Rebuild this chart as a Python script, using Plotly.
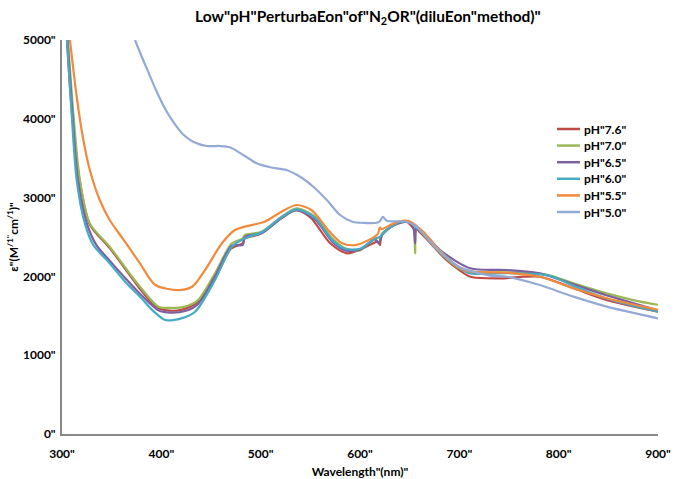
import plotly.graph_objects as go

# ---- data ----
wl_76 = [305, 310, 318, 328, 348, 368, 378, 395, 405, 420, 435, 455, 470, 482, 484, 500, 520, 535, 550, 570, 587, 603, 618, 620, 622, 637, 647, 655, 657, 671, 687, 700, 711, 741, 781, 815, 848, 900]
eps_76 = [5000, 4080, 3200, 2660, 2360, 2020, 1850, 1610, 1570, 1575, 1660, 2000, 2350, 2420, 2480, 2540, 2730, 2840, 2750, 2420, 2293, 2356, 2440, 2400, 2520, 2673, 2694, 2600, 2600, 2420, 2208, 2080, 1996, 1976, 1996, 1849, 1700, 1552]

wl_70 = [306, 311.4, 318, 328, 348, 368, 378.5, 397, 410, 424, 437, 454, 471, 482, 484, 501, 521, 536, 555, 572, 585, 600, 615, 619, 622, 630, 640, 650, 654, 655.5, 657, 665, 680, 700, 711, 750, 789.5, 815, 848.5, 882, 900]
eps_70 = [5000, 4069, 3223, 2673, 2377, 2039, 1869, 1616, 1600, 1616, 1700, 2039, 2420, 2480, 2525, 2567, 2757, 2864, 2757, 2483, 2356, 2330, 2480, 2420, 2540, 2620, 2680, 2690, 2620, 2293, 2620, 2520, 2310, 2100, 2060, 2050, 2018, 1912, 1785, 1679, 1640]

wl_65 = [305.5, 310.5, 316, 325, 335, 348, 365, 380, 397, 410, 424, 437, 454, 471, 482, 484, 501, 521, 536, 555, 572, 585, 600, 615, 619, 622, 630, 640, 650, 654, 655.5, 657, 665, 680.6, 711, 748, 781, 815, 848, 900]
eps_65 = [5000, 4069, 3223, 2673, 2390, 2200, 1960, 1760, 1570, 1540, 1560, 1650, 2000, 2390, 2400, 2500, 2550, 2740, 2840, 2720, 2440, 2330, 2340, 2470, 2420, 2520, 2620, 2680, 2690, 2600, 2420, 2620, 2540, 2335, 2103, 2081, 2039, 1900, 1760, 1570]

wl_60 = [305, 309.7, 314.8, 323, 331.5, 348, 365, 378.5, 392, 404, 420, 434, 454, 471, 484, 501, 521, 536, 555, 572, 585, 600, 615, 620, 622, 630, 640, 650, 655, 657, 665, 680, 700, 711, 750, 790, 815, 848, 900]
eps_60 = [5000, 4069, 3223, 2673, 2400, 2166, 1912, 1743, 1560, 1447, 1468, 1552, 1954, 2377, 2483, 2560, 2750, 2850, 2740, 2460, 2350, 2350, 2480, 2500, 2530, 2620, 2690, 2690, 2640, 2620, 2530, 2330, 2110, 2039, 2040, 2010, 1880, 1720, 1552]

wl_55 = [308, 314.8, 321.5, 328, 338, 348, 361.7, 378.5, 394, 417, 431, 444, 461, 474, 484, 504, 521, 536, 551, 568, 582, 595, 610, 618, 620, 622, 630, 640, 650, 655, 665, 680, 700, 711, 748, 781, 815, 848.5, 900]
eps_55 = [5000, 4280, 3731, 3350, 2969, 2716, 2470, 2166, 1891, 1827, 1869, 2081, 2420, 2589, 2631, 2694, 2821, 2906, 2843, 2589, 2420, 2398, 2470, 2540, 2620, 2600, 2650, 2700, 2700, 2660, 2550, 2330, 2110, 2060, 2047, 1996, 1849, 1722, 1574]

wl_50 = [373.5, 380.3, 387, 393.7, 402, 412, 422, 432, 445.7, 459, 469, 482.6, 496, 509.5, 526, 539.7, 553, 566.6, 580, 593, 603, 617, 620, 623, 627, 647, 657, 670, 685, 700, 731, 748, 781, 815, 848.5, 900]
eps_50 = [5000, 4788, 4590, 4390, 4170, 3960, 3800, 3710, 3655, 3655, 3638, 3540, 3435, 3385, 3350, 3265, 3138, 2969, 2779, 2690, 2680, 2681, 2700, 2757, 2707, 2694, 2630, 2450, 2260, 2120, 2010, 1996, 1890, 1743, 1616, 1468]

series_names = ['pH"7.6"', 'pH"7.0"', 'pH"6.5"', 'pH"6.0"', 'pH"5.5"', 'pH"5.0"']
series_x = [wl_76, wl_70, wl_65, wl_60, wl_55, wl_50]
series_y = [eps_76, eps_70, eps_65, eps_60, eps_55, eps_50]
colors = ["#BE4B48", "#98B954", "#7D60A0", "#46AAC5", "#F28A3C", "#93AAD6"]

x_ticks = [300, 400, 500, 600, 700, 800, 900]
x_ticktext = ['300"', '400"', '500"', '600"', '700"', '800"', '900"']
y_ticks = [0, 1000, 2000, 3000, 4000, 5000]
y_ticktext = ['0"', '1000"', '2000"', '3000"', '4000"', '5000"']

FONT = "Lato"
W, H = 675, 479
ML, MR, MT, MB = 62, 17, 40, 45
PW, PH = W - ML - MR, H - MT - MB

fig = go.Figure()
for name, xs, ys, c in zip(series_names, series_x, series_y, colors):
    fig.add_trace(go.Scatter(
        x=xs, y=ys, mode="lines", name=name, showlegend=False,
        line=dict(color=c, width=2.2, shape="spline", smoothing=0.8),
    ))

# manual legend (compact spacing like the reference)
leg_x0, leg_y0, leg_dy, leg_len = 557, 129, 16.6, 23
shapes, annotations = [], []
for i, (name, c) in enumerate(zip(series_names, colors)):
    py = leg_y0 + i * leg_dy
    yp = (H - MB - py) / PH
    shapes.append(dict(type="line", xref="paper", yref="paper",
                       x0=(leg_x0 - ML) / PW, x1=(leg_x0 + leg_len - ML) / PW,
                       y0=yp, y1=yp, line=dict(color=c, width=2.5)))
    annotations.append(dict(xref="paper", yref="paper",
                            x=(leg_x0 + leg_len + 2 - ML) / PW, y=yp,
                            xanchor="left", yanchor="middle", showarrow=False,
                            text=name,
                            font=dict(family=FONT, size=12, color="#000000", weight="bold")))

fig.update_layout(
    width=W, height=H,
    margin=dict(l=ML, r=MR, t=MT, b=MB),
    paper_bgcolor="white", plot_bgcolor="white",
    font=dict(family=FONT, color="#000000"),
    title=dict(
        text='Low"pH"PerturbaEon"of"N<sub>2</sub>OR"(diluEon"method)"',
        x=0.545, xanchor="center", y=0.965, yanchor="middle",
        font=dict(family=FONT, size=15.5, color="#000000", weight="bold"),
    ),
    showlegend=False,
    shapes=shapes,
    annotations=annotations,
    xaxis=dict(
        range=[300, 900], tickvals=x_ticks, ticktext=x_ticktext,
        showgrid=False, zeroline=False, automargin=False,
        showline=True, linecolor="#888888", linewidth=2,
        ticks="", ticklabelstandoff=8,
        tickfont=dict(family=FONT, size=12, color="#000000", weight="bold"),
        title=dict(text='Wavelength"(nm)"', standoff=8,
                   font=dict(family=FONT, size=12, color="#000000", weight="bold")),
    ),
    yaxis=dict(
        range=[0, 5000], tickvals=y_ticks, ticktext=y_ticktext,
        showgrid=False, zeroline=False, automargin=False,
        showline=True, linecolor="#888888", linewidth=2,
        ticks="", ticklabelstandoff=2,
        tickfont=dict(family=FONT, size=12, color="#000000", weight="bold"),
        title=dict(text='ε"(M<sup>/1"</sup>cm<sup>/1</sup>)"', standoff=2,
                   font=dict(family=FONT, size=12, color="#000000", weight="bold")),
    ),
)

fig.write_html("out.html")
